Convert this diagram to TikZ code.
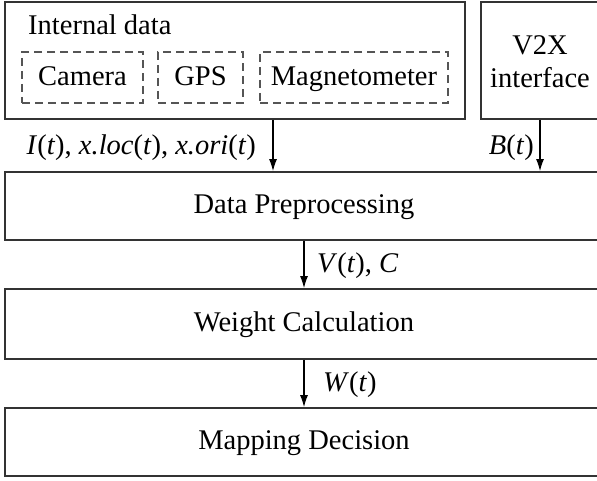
\documentclass[tikz,border=0pt]{standalone}
\usepackage{fontspec}
\setmainfont{Liberation Serif}
\usetikzlibrary{arrows.meta}
\definecolor{edge}{HTML}{333333}
\definecolor{dash}{HTML}{555555}
\tikzset{
  box/.style={draw=edge, line width=1.8pt, rectangle, inner sep=0pt},
  dbox/.style={draw=dash, line width=1.4pt, dash pattern=on 8pt off 5pt, rectangle, inner sep=0pt, minimum height=51pt, text height=21pt, text depth=4pt},
  lbl/.style={inner sep=0pt, font=\fontsize{28.5}{34}\selectfont},
  stage/.style={box, minimum width=598pt, text height=20pt, text depth=5pt, font=\fontsize{28.5}{34}\selectfont},
  arr/.style={draw=black, line width=1.2pt, -{Latex[length=12pt,width=8pt]}},
}
\begin{document}
\begin{tikzpicture}[x=1pt,y=-1pt]
\useasboundingbox (0,0) rectangle (597,481);
\clip (0,0) rectangle (597,481);
\fill[white] (0,0) rectangle (597,481);
% top boxes
\node[box, minimum width=460pt, minimum height=117pt] (internal) at (235,60.5) {};
\node[lbl, anchor=base west] (intlbl) at (28,35) {Internal data};
\node[dbox, minimum width=121pt, lbl] (cam) at (82.5,77.5) {Camera};
\node[dbox, minimum width=85pt, lbl] (gps) at (200.5,77.5) {GPS};
\node[dbox, minimum width=188pt, lbl] (mag) at (354,77.5) {Magnetometer};
\node[box, minimum width=118pt, minimum height=117pt] (v2x) at (540,60.5) {};
\node[lbl] (v2xa) at (540,45) {V2X};
\node[lbl] (v2xb) at (540,78) {interface};
% stages
\node[stage, minimum height=68pt] (dp) at (304,206) {Data Preprocessing};
\node[stage, minimum height=70pt] (wc) at (304,324) {Weight Calculation};
\node[stage, minimum height=68pt] (md) at (304,442) {Mapping Decision};
% connectors
\draw[arr] (273,0 |- internal.south) -- (273,0 |- dp.north);
\draw[arr] (v2x.south) -- (v2x.south |- dp.north);
\draw[arr] (dp.south) -- (wc.north);
\draw[arr] (wc.south) -- (md.north);
% labels
\node[lbl, anchor=east] (l1) at (256,148) {\textit{I}(\textit{t}), \textit{x.loc}(\textit{t}), \textit{x.ori}(\textit{t})};
\node[lbl, anchor=east] (l2) at (534,148) {\textit{B}(\textit{t})};
\node[lbl, anchor=west] (l3) at (317,266) {\textit{V}(\textit{t}), \textit{C}};
\node[lbl, anchor=west] (l4) at (323,385) {\textit{W}(\textit{t})};
\end{tikzpicture}
\end{document}
